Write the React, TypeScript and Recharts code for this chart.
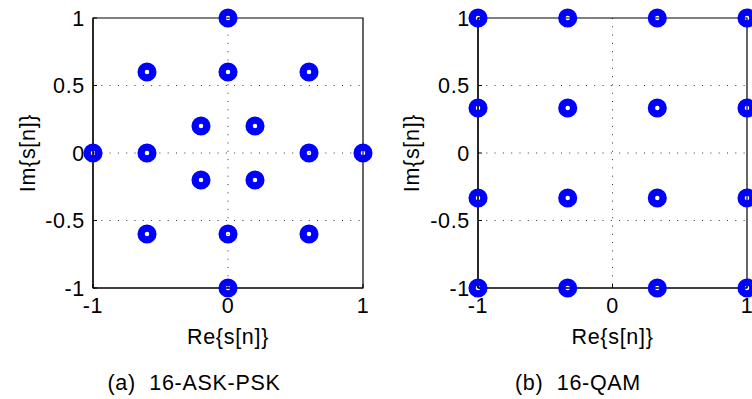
import React from "react";
import {
  ScatterChart,
  Scatter,
  XAxis,
  YAxis,
  CartesianGrid,
  ReferenceArea,
  Label,
} from "recharts";

// 16-ASK-PSK constellation points (real / imaginary parts)
const askPskRe = [0, 1, 0, -1, 0.6, -0.6, -0.6, 0.6, 0, 0.6, 0, -0.6, 0.2, -0.2, -0.2, 0.2];
const askPskIm = [1, 0, -1, 0, 0.6, 0.6, -0.6, -0.6, 0.6, 0, -0.6, 0, 0.2, 0.2, -0.2, -0.2];

// 16-QAM constellation points
const qamRe = [-1, -0.333, 0.333, 1, -1, -0.333, 0.333, 1, -1, -0.333, 0.333, 1, -1, -0.333, 0.333, 1];
const qamIm = [1, 1, 1, 1, 0.333, 0.333, 0.333, 0.333, -0.333, -0.333, -0.333, -0.333, -1, -1, -1, -1];

const reTicks = [-1, 0, 1];
const imTicks = [-1, -0.5, 0, 0.5, 1];
const gridRe = [0];
const gridIm = [-0.5, 0, 0.5];

const captions = ["(a)  16-ASK-PSK", "(b)  16-QAM"];

const FONT = '"Liberation Sans", Arial, Helvetica, sans-serif';
const FONT_SIZE = 21.5;
const SPACING = 0.7;
const BLUE = "#0000ff";

const textStyle = {
  fill: "#000",
  fontSize: FONT_SIZE,
  fontFamily: FONT,
  letterSpacing: SPACING,
};

// hollow thick ring marker
const Ring = (props: any) => (
  <circle cx={props.cx} cy={props.cy} r={5.9} fill="none" stroke={BLUE} strokeWidth={7.3} />
);

interface PanelProps {
  re: number[];
  im: number[];
  left: number;
  width: number;
  axisWidth: number;
  marginRight: number;
}

const Panel: React.FC<PanelProps> = ({ re, im, left, width, axisWidth, marginRight }) => {
  const data = re.map((x, i) => ({ re: x, im: im[i] }));

  return (
    <div style={{ position: "absolute", left, top: 0 }}>
      <ScatterChart
        width={width}
        height={399}
        margin={{ top: 18, right: marginRight, bottom: 51, left: 0 }}
      >
        <CartesianGrid
          stroke="#333"
          strokeDasharray="1 7.3"
          verticalValues={gridRe}
          horizontalValues={gridIm}
        />
        <XAxis
          type="number"
          dataKey="re"
          domain={[-1, 1]}
          ticks={reTicks}
          height={60}
          axisLine={{ stroke: "#000", strokeWidth: 1.2 }}
          tickLine={{ stroke: "#000" }}
          tickSize={-4}
          tickMargin={14}
          tick={textStyle}
          interval={0}
        >
          <Label value="Re{s[n]}" position="center" dy={18} style={textStyle} />
        </XAxis>
        <YAxis
          type="number"
          dataKey="im"
          domain={[-1, 1]}
          ticks={imTicks}
          width={axisWidth}
          axisLine={{ stroke: "#000", strokeWidth: 1.2 }}
          tickLine={{ stroke: "#000" }}
          tickSize={-4}
          tickMargin={12}
          tick={textStyle}
          interval={0}
        >
          <Label
            value="Im{s[n]}"
            position="center"
            angle={-90}
            dx={-(axisWidth / 2 - 27)}
            style={textStyle}
          />
        </YAxis>
        <ReferenceArea
          x1={-1}
          x2={1}
          y1={-1}
          y2={1}
          fill="none"
          stroke="#000"
          strokeWidth={1.2}
        />
        <Scatter data={data} shape={Ring} isAnimationActive={false} />
      </ScatterChart>
    </div>
  );
};

const Caption: React.FC<{ text: string; center: number }> = ({ text, center }) => (
  <div
    style={{
      position: "absolute",
      left: center - 150,
      width: 300,
      top: 373,
      textAlign: "center",
      whiteSpace: "pre",
      fontFamily: FONT,
      fontSize: FONT_SIZE,
      letterSpacing: SPACING,
      lineHeight: "21px",
      color: "#000",
    }}
  >
    {text}
  </div>
);

export default function App() {
  return (
    <div
      style={{
        position: "absolute",
        left: 0,
        top: 0,
        width: 752,
        height: 399,
        overflow: "hidden",
        background: "#fff",
      }}
    >
      <Panel re={askPskRe} im={askPskIm} left={0} width={376} axisWidth={93} marginRight={13} />
      <Panel re={qamRe} im={qamIm} left={384} width={368} axisWidth={94} marginRight={5} />
      <Caption text={captions[0]} center={194} />
      <Caption text={captions[1]} center={578} />
    </div>
  );
}
